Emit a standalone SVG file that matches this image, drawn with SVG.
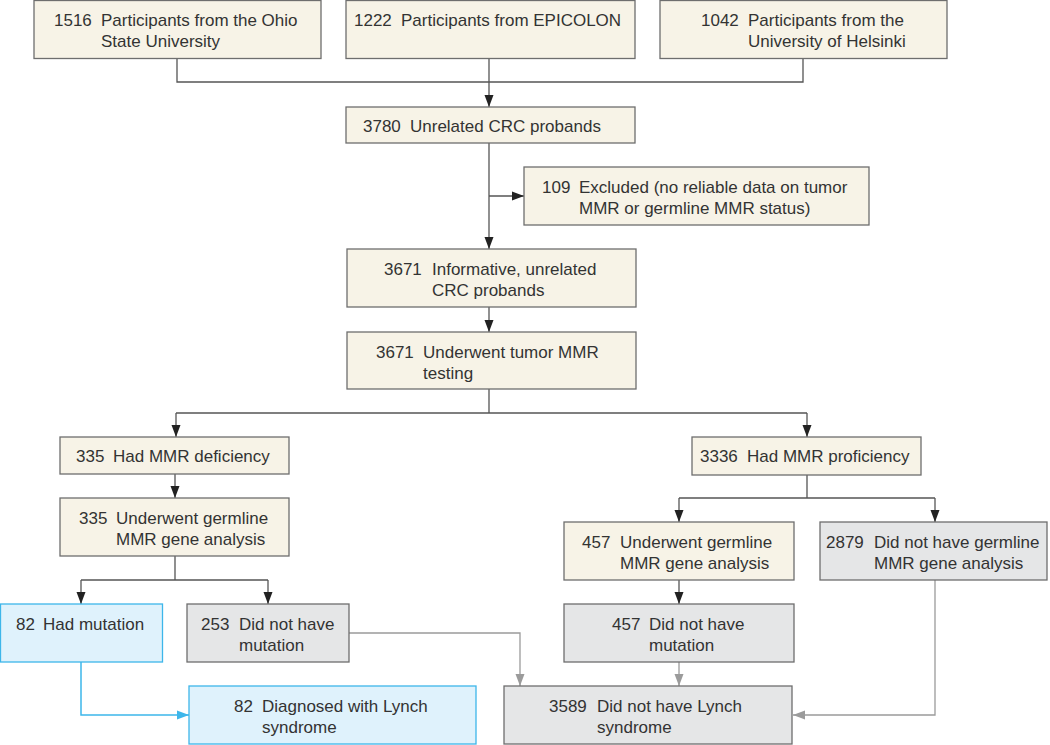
<svg xmlns="http://www.w3.org/2000/svg" width="1050" height="745" viewBox="0 0 1050 745">
<style>
.cream{fill:#f7f3e7;stroke:#6e6e6e;stroke-width:1.3}
.gray{fill:#e5e6e7;stroke:#6e6e6e;stroke-width:1.3}
.blue{fill:#dff2fc;stroke:#3db6ea;stroke-width:1.3}
text{font-family:"Liberation Sans",Arial,sans-serif;font-size:17px;fill:#333}
.c{fill:none;stroke:#555;stroke-width:1.3}
.cg{fill:none;stroke:#9b9b9b;stroke-width:1.3}
.cb{fill:none;stroke:#3db6ea;stroke-width:1.5}
</style>
<defs>
<marker id="ad" markerUnits="userSpaceOnUse" markerWidth="12" markerHeight="10" viewBox="0 0 12 10" refX="12" refY="5" orient="auto"><path d="M0,0.5 L12,5 L0,9.5 Z" fill="#222"/></marker>
<marker id="ag" markerUnits="userSpaceOnUse" markerWidth="12" markerHeight="10" viewBox="0 0 12 10" refX="12" refY="5" orient="auto"><path d="M0,0.5 L12,5 L0,9.5 Z" fill="#9b9b9b"/></marker>
<marker id="ab" markerUnits="userSpaceOnUse" markerWidth="12" markerHeight="10" viewBox="0 0 12 10" refX="12" refY="5" orient="auto"><path d="M0,0.5 L12,5 L0,9.5 Z" fill="#3db6ea"/></marker>
</defs>
<g id="connectors">
<path class="c" d="M177,58 V82 H803 V58"/>
<path class="c" d="M489,58 V107" marker-end="url(#ad)"/>
<path class="c" d="M489,143 V249" marker-end="url(#ad)"/>
<path class="c" d="M489,196 H524" marker-end="url(#ad)"/>
<path class="c" d="M489,307 V332" marker-end="url(#ad)"/>
<path class="c" d="M489,389 V413 M176,413 H807"/>
<path class="c" d="M176,413 V437" marker-end="url(#ad)"/>
<path class="c" d="M807,413 V437" marker-end="url(#ad)"/>
<path class="c" d="M175,474 V498" marker-end="url(#ad)"/>
<path class="c" d="M175,556 V580 M81,580 H268"/>
<path class="c" d="M81,580 V604" marker-end="url(#ad)"/>
<path class="c" d="M268,580 V604" marker-end="url(#ad)"/>
<path class="c" d="M807,475 V498 M679,498 H935"/>
<path class="c" d="M679,498 V522" marker-end="url(#ad)"/>
<path class="c" d="M935,498 V522" marker-end="url(#ad)"/>
<path class="c" d="M679,580 V604" marker-end="url(#ad)"/>
<path class="cg" d="M679,662 V686" marker-end="url(#ag)"/>
<path class="cg" d="M349,633 H520 V686" marker-end="url(#ag)"/>
<path class="cg" d="M935,580 V715 H793" marker-end="url(#ag)"/>
<path class="cb" d="M81,662 V715 H189" marker-end="url(#ab)"/>
</g>
<g id="n1516"><rect class="cream" x="34" y="0.5" width="287" height="58"/><text x="54" y="26">1516</text><text x="101" y="26">Participants from the Ohio</text><text x="101" y="47">State University</text></g>
<g id="n1222"><rect class="cream" x="346" y="0.5" width="289" height="58"/><text x="354" y="26">1222</text><text x="401" y="26">Participants from EPICOLON</text></g>
<g id="n1042"><rect class="cream" x="660" y="0.5" width="287" height="58"/><text x="701" y="26">1042</text><text x="748" y="26">Participants from the</text><text x="748" y="47">University of Helsinki</text></g>
<g id="n3780"><rect class="cream" x="346" y="107" width="289" height="36"/><text x="363" y="132">3780</text><text x="410" y="132">Unrelated CRC probands</text></g>
<g id="n109"><rect class="cream" x="524" y="167" width="345" height="58"/><text x="542" y="193">109</text><text x="579" y="193">Excluded (no reliable data on tumor</text><text x="579" y="214">MMR or germline MMR status)</text></g>
<g id="n3671a"><rect class="cream" x="347" y="249" width="289" height="58"/><text x="384" y="275">3671</text><text x="432" y="275">Informative, unrelated</text><text x="432" y="296">CRC probands</text></g>
<g id="n3671b"><rect class="cream" x="347" y="332" width="289" height="57"/><text x="376" y="358">3671</text><text x="423" y="358">Underwent tumor MMR</text><text x="423" y="379">testing</text></g>
<g id="n335a"><rect class="cream" x="60" y="437" width="229" height="37"/><text x="76" y="462">335</text><text x="113" y="462">Had MMR deficiency</text></g>
<g id="n335b"><rect class="cream" x="60" y="498" width="229" height="58"/><text x="79" y="524">335</text><text x="116" y="524">Underwent germline</text><text x="116" y="545">MMR gene analysis</text></g>
<g id="n82a"><rect class="blue" x="0.5" y="604" width="162" height="58"/><text x="16" y="630">82</text><text x="43" y="630">Had mutation</text></g>
<g id="n253"><rect class="gray" x="187" y="604" width="162" height="58"/><text x="201" y="630">253</text><text x="239" y="630">Did not have</text><text x="239" y="651">mutation</text></g>
<g id="n82b"><rect class="blue" x="189" y="686" width="287" height="58"/><text x="234" y="712">82</text><text x="262" y="712">Diagnosed with Lynch</text><text x="262" y="733">syndrome</text></g>
<g id="n3336"><rect class="cream" x="692" y="437" width="229" height="38"/><text x="700" y="462">3336</text><text x="747" y="462">Had MMR proficiency</text></g>
<g id="n457a"><rect class="cream" x="564" y="522" width="230" height="58"/><text x="582" y="548">457</text><text x="620" y="548">Underwent germline</text><text x="620" y="569">MMR gene analysis</text></g>
<g id="n2879"><rect class="gray" x="820" y="522" width="227" height="58"/><text x="826" y="548">2879</text><text x="874" y="548">Did not have germline</text><text x="874" y="569">MMR gene analysis</text></g>
<g id="n457b"><rect class="gray" x="564" y="604" width="230" height="58"/><text x="612" y="630">457</text><text x="649" y="630">Did not have</text><text x="649" y="651">mutation</text></g>
<g id="n3589"><rect class="gray" x="504" y="686" width="288" height="58"/><text x="549" y="712">3589</text><text x="597" y="712">Did not have Lynch</text><text x="597" y="733">syndrome</text></g>
</svg>
